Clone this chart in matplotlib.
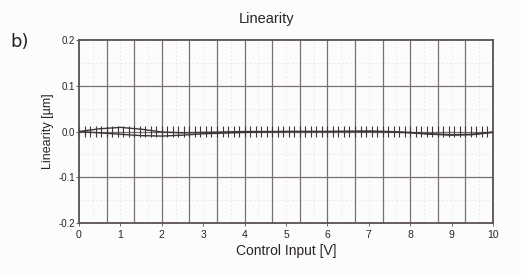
import numpy as np
import matplotlib.pyplot as plt
from matplotlib.ticker import FixedLocator

# readings
curve_x = [0, 0.5, 1, 1.5, 2, 2.5, 3, 4, 5, 6, 7, 7.5, 8, 8.5, 9, 9.5, 10]
upper = [0.0, 0.006, 0.009, 0.005, -0.001, -0.003, -0.002, 0.0, 0.0, 0.0,
         0.001, 0.0, -0.002, -0.005, -0.007, -0.006, -0.001]
lower = [0.0, -0.003, -0.006, -0.009, -0.010, -0.008, -0.005, -0.002, 0.0, 0.0,
         0.0, -0.001, -0.003, -0.006, -0.008, -0.007, -0.002]

# scatter of repeated measurements at each input step
step_x = np.linspace(0, 10, 76)
step_spread = 0.012

x_ticks = [0, 1, 2, 3, 4, 5, 6, 7, 8, 9, 10]
y_ticks = [-0.2, -0.1, 0.0, 0.1, 0.2]

plt.rcParams['font.family'] = ['Liberation Sans', 'DejaVu Sans']

fig = plt.figure(figsize=(5.21, 2.75), dpi=100)
fig.patch.set_facecolor('#fcfcfc')
ax = fig.add_axes([79 / 521, 1 - 223 / 275, (493 - 79) / 521, (223 - 40) / 275])
ax.set_facecolor('#fcfcfc')

line_col = '#3e3636'
grid_col = '#7a7070'
text_col = '#2a2424'

ax.set_xlim(0, 10)
ax.set_ylim(-0.2, 0.2)

# major grid: 15 vertical divisions, 0.1 horizontal
for gx in np.linspace(0, 10, 16)[1:-1]:
    ax.axvline(gx, color=grid_col, lw=0.9, zorder=1)
for gy in [-0.1, 0.0, 0.1]:
    ax.axhline(gy, color=grid_col, lw=0.9, zorder=1)
# faint minor grid
for gx in np.linspace(0, 10, 31)[1::2]:
    ax.axvline(gx, color='#e6e2e2', lw=0.6, ls=(0, (2, 3)), zorder=0)
for gy in [-0.15, -0.05, 0.05, 0.15]:
    ax.axhline(gy, color='#e6e2e2', lw=0.6, ls=(0, (2, 3)), zorder=0)

ax.vlines(step_x, -step_spread, step_spread, color=line_col, lw=0.8, zorder=2)
ax.plot(curve_x, upper, color=line_col, lw=1.0, zorder=3)
ax.plot(curve_x, lower, color=line_col, lw=1.0, zorder=3)

for s in ax.spines.values():
    s.set_color('#5a5050')
    s.set_linewidth(1.3)

ax.xaxis.set_major_locator(FixedLocator(x_ticks))
ax.yaxis.set_major_locator(FixedLocator(y_ticks))
ax.set_xticklabels([str(v) for v in x_ticks])
ax.set_yticklabels(['-0.2', '-0.1', '0.0', '0.1', '0.2'])
ax.tick_params(axis='x', length=2, width=0.6, color='#5a5050',
               labelsize=7.5, labelcolor=text_col, pad=3)
ax.tick_params(axis='y', length=2, width=0.6, color='#5a5050',
               labelsize=7, labelcolor=text_col, pad=1)

ax.set_xlabel('Control Input [V]', fontsize=10, color=text_col, labelpad=3)
ax.set_ylabel('Linearity [µm]', fontsize=9, color=text_col, labelpad=3)
fig.text(267 / 521, 1 - 19 / 275, 'Linearity', fontsize=10.5, color=text_col,
         ha='center', va='center')

fig.text(10 / 521, 1 - 47 / 275, 'b)', fontsize=13, color='#222222',
         family=['DejaVu Sans'])

fig.savefig('out.png', dpi=100, facecolor=fig.get_facecolor())
